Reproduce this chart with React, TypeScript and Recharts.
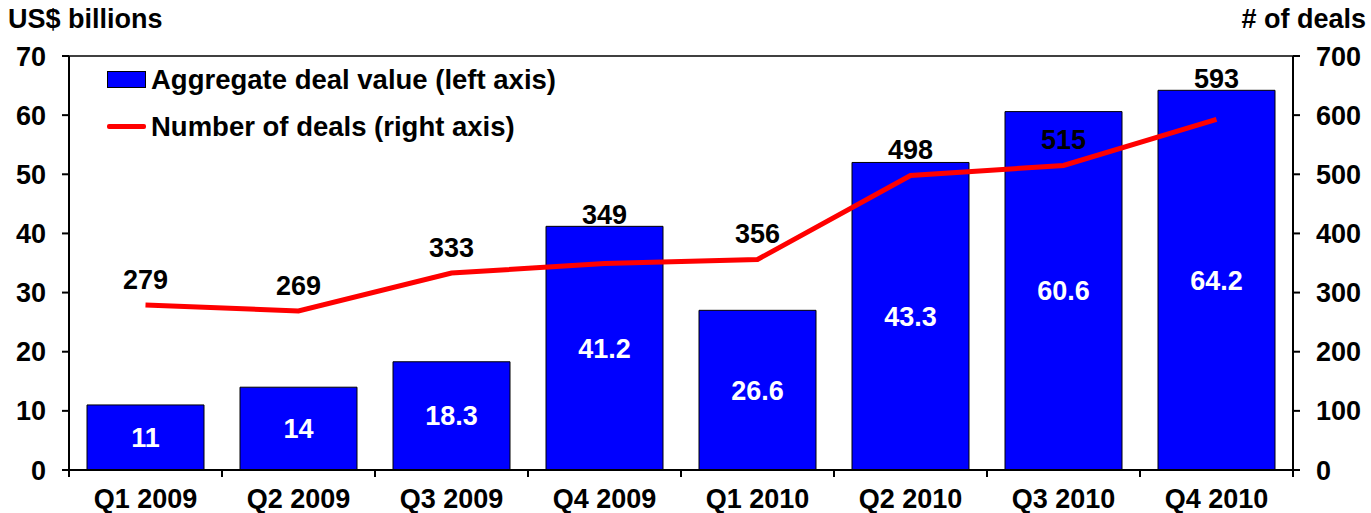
import {
  ComposedChart,
  Bar,
  Line,
  XAxis,
  YAxis,
  LabelList,
  Legend,
  ReferenceLine,
} from "recharts";

// ---------------------------------------------------------------------------
// Data
// ---------------------------------------------------------------------------

const quarters = [
  "Q1 2009",
  "Q2 2009",
  "Q3 2009",
  "Q4 2009",
  "Q1 2010",
  "Q2 2010",
  "Q3 2010",
  "Q4 2010",
];

// Bar heights as drawn (US$ bn)
const dealValue = [11, 14, 18.3, 41.2, 27, 52, 60.6, 64.2];
// Labels printed inside the bars
const dealValueLabels = ["11", "14", "18.3", "41.2", "26.6", "43.3", "60.6", "64.2"];
// Number of deals (right axis)
const dealCount = [279, 269, 333, 349, 356, 498, 515, 593];

const leftTicks = [0, 10, 20, 30, 40, 50, 60, 70];
const rightTicks = [0, 100, 200, 300, 400, 500, 600, 700];

const LEFT_MAX = 70;
const RIGHT_MAX = 700;

const chartData = quarters.map((q, i) => ({
  quarter: q,
  value: dealValue[i],
  valueLabel: dealValueLabels[i],
  deals: dealCount[i],
}));

// ---------------------------------------------------------------------------
// Styling helpers
// ---------------------------------------------------------------------------

const FONT = '"Liberation Sans", Arial, sans-serif';
const tickStyle = {
  fill: "#000",
  fontSize: 27,
  fontWeight: "bold" as const,
  fontFamily: FONT,
};

// Category tick: label centred in the band, tick marks on the band edges
// (Excel-style "between categories" tick placement).
function QuarterTick(props: any) {
  const { x, y, payload, index, visibleTicksCount } = props;
  const half = payload?.offset ?? 76.5;
  const last = index === (visibleTicksCount ?? quarters.length) - 1;
  return (
    <g>
      <line x1={x - half} x2={x - half} y1={y} y2={y + 7} stroke="#000" strokeWidth={2} />
      {last && (
        <line x1={x + half} x2={x + half} y1={y} y2={y + 7} stroke="#000" strokeWidth={2} />
      )}
      <text
        x={x}
        y={y + 19}
        dy="0.71em"
        textAnchor="middle"
        fill="#000"
        fontSize={27}
        fontWeight="bold"
        fontFamily={FONT}
      >
        {payload.value}
      </text>
    </g>
  );
}

// Deal-count label: sits above the line point, but hops above the bar top
// when it would otherwise straddle the bar's edge.
function DealLabel(props: any) {
  const vb = props.viewBox ?? props;
  const { x, y, width, height } = vb;
  const index: number = props.index;
  const bottom = y + height;
  const pxPerUnit = height / dealValue[index];
  const pointY = bottom - (dealCount[index] / (RIGHT_MAX / LEFT_MAX)) * pxPerUnit;
  let cy = pointY - 26;
  const inside = cy - 12 > y + 6;
  const above = cy + 11 <= y;
  if (!inside && !above) cy = y - 12;
  return (
    <text
      x={x + width / 2}
      y={cy}
      dy="0.36em"
      textAnchor="middle"
      fill="#000"
      fontSize={27}
      fontWeight="bold"
      fontFamily={FONT}
    >
      {dealCount[index]}
    </text>
  );
}

function ChartLegend() {
  const row = { display: "flex", alignItems: "center", height: 27 } as const;
  const text = {
    fontFamily: FONT,
    fontSize: 27.5,
    fontWeight: "bold" as const,
    color: "#000",
    marginLeft: 5,
    whiteSpace: "nowrap" as const,
  };
  return (
    <div style={{ display: "flex", flexDirection: "column", gap: 20 }}>
      <div style={row}>
        <span
          style={{
            display: "inline-block",
            width: 37,
            height: 15,
            background: "#0000FF",
            border: "1px solid #000",
          }}
        />
        <span style={text}>Aggregate deal value (left axis)</span>
      </div>
      <div style={row}>
        <span
          style={{
            display: "inline-block",
            width: 39,
            height: 5,
            background: "#FF0000",
            borderRadius: 2,
          }}
        />
        <span style={text}>Number of deals (right axis)</span>
      </div>
    </div>
  );
}

// ---------------------------------------------------------------------------
// Component
// ---------------------------------------------------------------------------

export default function App() {
  return (
    <div style={{ position: "absolute", left: 0, top: 0 }}>
      <ComposedChart
        width={1371}
        height={513}
        data={chartData}
        margin={{ top: 56, right: 0, left: 0, bottom: 0 }}
      >
        <XAxis
          dataKey="quarter"
          tick={<QuarterTick />}
          tickLine={false}
          tickSize={0}
          tickMargin={0}
          axisLine={{ stroke: "#000", strokeWidth: 2 }}
          height={43}
          interval={0}
        />
        <YAxis
          yAxisId="left"
          domain={[0, LEFT_MAX]}
          ticks={leftTicks}
          width={69}
          tick={tickStyle}
          tickSize={7}
          tickMargin={16}
          tickLine={{ stroke: "#000", strokeWidth: 2 }}
          axisLine={{ stroke: "#000", strokeWidth: 2 }}
          label={{
            content: (p: any) => (
              <text
                x={8}
                y={p.viewBox.y - 28}
                fill="#000"
                fontSize={27}
                fontWeight="bold"
                fontFamily={FONT}
              >
                US$ billions
              </text>
            ),
          }}
        />
        <YAxis
          yAxisId="right"
          orientation="right"
          domain={[0, RIGHT_MAX]}
          ticks={rightTicks}
          width={78}
          tick={tickStyle}
          tickSize={7}
          tickMargin={16}
          tickLine={{ stroke: "#000", strokeWidth: 2 }}
          axisLine={{ stroke: "#000", strokeWidth: 2 }}
          label={{
            content: (p: any) => (
              <text
                x={1366}
                y={p.viewBox.y - 28}
                textAnchor="end"
                fill="#000"
                fontSize={27}
                fontWeight="bold"
                fontFamily={FONT}
              >
                # of deals
              </text>
            ),
          }}
        />
        <ReferenceLine yAxisId="left" y={LEFT_MAX} stroke="#000" strokeWidth={1.5} />
        <Legend
          layout="vertical"
          align="center"
          verticalAlign="middle"
          content={<ChartLegend />}
          wrapperStyle={{ left: 107, top: 66, width: "auto", height: "auto" }}
        />
        <Bar
          yAxisId="left"
          dataKey="value"
          fill="#0000FF"
          stroke="#000"
          strokeWidth={1}
          barSize={117}
          isAnimationActive={false}
        >
          <LabelList
            dataKey="valueLabel"
            position="center"
            fill="#fff"
            fontSize={27}
            fontWeight="bold"
            fontFamily={FONT}
          />
          <LabelList dataKey="deals" content={<DealLabel />} />
        </Bar>
        <Line
          yAxisId="right"
          dataKey="deals"
          type="linear"
          stroke="#FF0000"
          strokeWidth={5}
          dot={false}
          activeDot={false}
          isAnimationActive={false}
        />
      </ComposedChart>
    </div>
  );
}
